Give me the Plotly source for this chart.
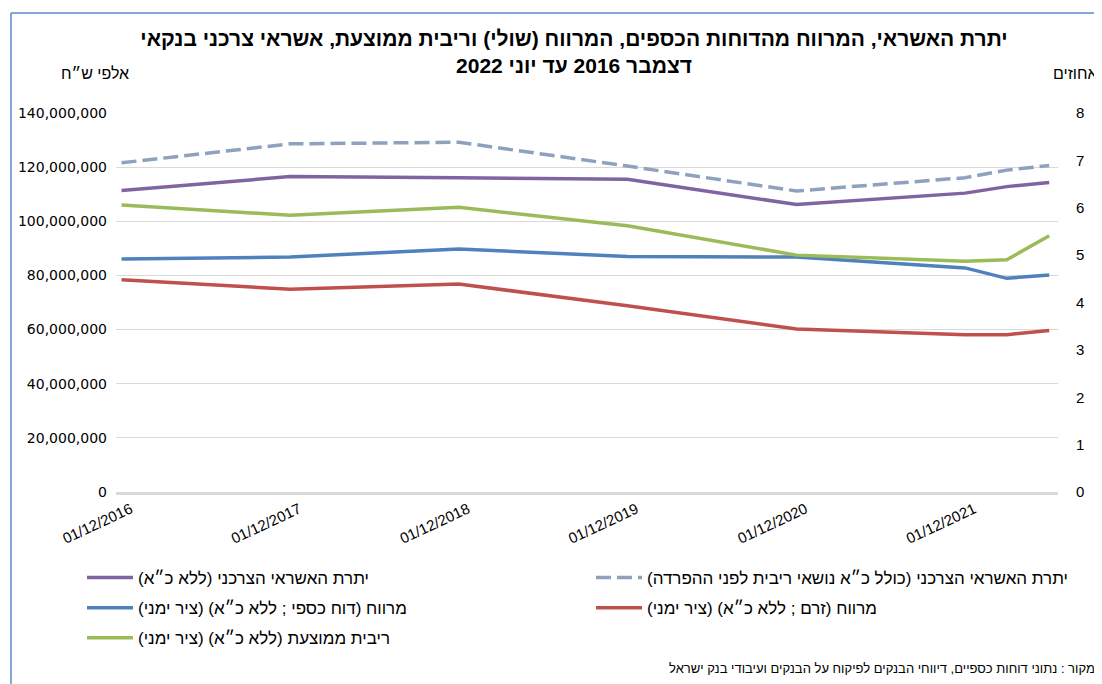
import plotly.graph_objects as go

RLM = "\u200f"

dates = ["2016-12-01", "2017-12-01", "2018-12-01", "2019-12-01",
         "2020-12-01", "2021-12-01", "2022-03-01", "2022-06-01"]

# יתרות באלפי ש"ח
credit_excl = [111400000, 116500000, 116100000, 115500000,
               106200000, 110400000, 112800000, 114300000]
credit_incl = [121600000, 128600000, 129200000, 120400000,
               111200000, 116100000, 118900000, 120600000]

# אחוזים (ציר ימני)
spread_fin = [4.92, 4.96, 5.13, 4.97, 4.96, 4.73, 4.51, 4.58]
spread_flow = [4.48, 4.28, 4.39, 3.93, 3.44, 3.32, 3.32, 3.41]
avg_rate = [6.06, 5.84, 6.01, 5.62, 5.00, 4.87, 4.90, 5.41]

names = [
    "יתרת האשראי הצרכני (ללא כ״א)",
    "יתרת האשראי הצרכני (כולל כ״א נושאי ריבית לפני ההפרדה)",
    "מרווח (דוח כספי ; ללא כ״א) (ציר ימני)",
    "מרווח (זרם ; ללא כ״א) (ציר ימני)",
    "ריבית ממוצעת (ללא כ״א) (ציר ימני)",
]

title_1 = "יתרת האשראי, המרווח מהדוחות הכספים, המרווח (שולי) וריבית ממוצעת, אשראי צרכני בנקאי"
title_2 = "דצמבר 2016 עד יוני 2022"
source = "מקור : נתוני דוחות כספיים, דיווחי הבנקים לפיקוח על הבנקים ועיבודי בנק ישראל"

HEB = "Liberation Sans, DejaVu Sans, sans-serif"
NARROW = "Liberation Sans Narrow, Liberation Sans, sans-serif"

fig = go.Figure()
fig.add_trace(go.Scatter(x=dates, y=credit_excl, name=names[0] + RLM, mode="lines",
                         legend="legend", legendgroup="a",
                         line=dict(color="#8064A2", width=3.5)))
fig.add_trace(go.Scatter(x=dates, y=credit_incl, name=names[1] + RLM, mode="lines",
                         legend="legend2", legendgroup="b",
                         line=dict(color="#8EA1BD", width=3.5, dash="15px,6px")))
fig.add_trace(go.Scatter(x=dates, y=spread_fin, name=names[2] + RLM, mode="lines",
                         yaxis="y2", legend="legend", legendgroup="c",
                         line=dict(color="#4F81BD", width=3.5)))
fig.add_trace(go.Scatter(x=dates, y=spread_flow, name=names[3] + RLM, mode="lines",
                         yaxis="y2", legend="legend2", legendgroup="d",
                         line=dict(color="#C0504D", width=3.5)))
fig.add_trace(go.Scatter(x=dates, y=avg_rate, name=names[4] + RLM, mode="lines",
                         yaxis="y2", legend="legend", legendgroup="e",
                         line=dict(color="#9BBB59", width=3.5)))

# the page body adds an 8px offset, so work in screen pixels and shift back
OFF = 8
W, H = 1102 - OFF, 684 - OFF
L, R, T, B = 116 - OFF, 44, 113 - OFF, 192
pw, ph = W - L - R, H - T - B


def px(x):
    return (x - OFF - L) / pw


def py(y):
    return (H - B - (y - OFF)) / ph


leg = dict(orientation="v", xanchor="left", yanchor="top", tracegroupgap=5,
           itemwidth=46,
           font=dict(family=HEB, size=17, color="black"),
           bgcolor="rgba(0,0,0,0)")

fig.update_layout(
    width=W, height=H,
    margin=dict(l=L, r=R, t=T, b=B, autoexpand=False),
    paper_bgcolor="white", plot_bgcolor="white",
    showlegend=True,
    title=dict(text="<b>" + title_1 + "</b><br><b>" + title_2 + "</b>",
               x=(574 - OFF) / W, xanchor="center", y=1 - 38 / H, yanchor="top",
               font=dict(family=HEB, size=21, color="black")),
    legend=dict(leg, x=px(82), y=py(560)),
    legend2=dict(leg, x=px(591), y=py(560)),
    xaxis=dict(type="date", range=["2016-11-19", "2022-06-20"],
               tick0="2016-12-01", dtick="M12", tickformat="%d/%m/%Y",
               tickangle=-25, ticklabelshift=9, showgrid=False, zeroline=False,
               showline=True, linecolor="#D9D9D9", linewidth=3,
               tickfont=dict(family=NARROW, size=15, color="black")),
    yaxis=dict(range=[0, 140000000], dtick=20000000, tickformat=",d",
               showgrid=True, gridcolor="#D9D9D9", gridwidth=1.3, zeroline=False,
               ticklabelstandoff=8,
               tickfont=dict(family="DejaVu Sans, sans-serif", size=14, color="black")),
    yaxis2=dict(range=[0, 8], dtick=1, overlaying="y", side="right",
                showgrid=False, zeroline=False, ticklabelstandoff=17,
                tickfont=dict(family=NARROW, size=15, color="black")),
    annotations=[
        dict(text="אלפי ש״ח", x=px(131), y=py(73), xref="paper", yref="paper",
             xanchor="right", yanchor="middle", showarrow=False,
             font=dict(family=HEB, size=16, color="black")),
        dict(text="אחוזים", x=px(1100), y=py(73), xref="paper", yref="paper",
             xanchor="right", yanchor="middle", showarrow=False,
             font=dict(family=HEB, size=16, color="black")),
        dict(text=source, x=px(1097), y=py(668), xref="paper", yref="paper",
             xanchor="right", yanchor="middle", showarrow=False,
             font=dict(family=HEB, size=13, color="black")),
    ],
    shapes=[
        dict(type="line", xref="paper", yref="paper", x0=px(11), x1=px(1110),
             y0=py(13), y1=py(13), line=dict(color="#5B8ACB", width=1.5)),
        dict(type="line", xref="paper", yref="paper", x0=px(11), x1=px(11),
             y0=py(13), y1=py(692), line=dict(color="#5B8ACB", width=1.5)),
    ],
)

fig.write_html("out.html")
